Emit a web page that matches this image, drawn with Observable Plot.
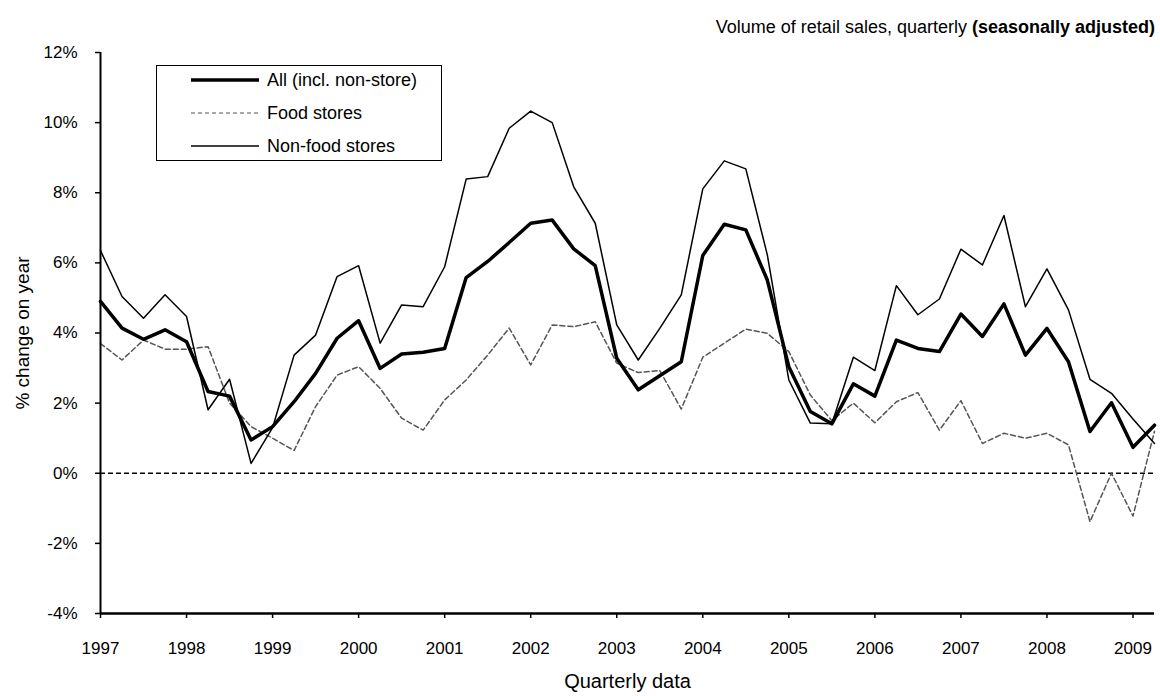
<!DOCTYPE html>
<html>
<head>
<meta charset="utf-8">
<script src="https://cdn.jsdelivr.net/npm/d3@7"></script>
<script src="https://cdn.jsdelivr.net/npm/@observablehq/plot@0.6"></script>
<style>
  body { margin: 0; background: white; font-family: "Liberation Sans", Arial, sans-serif; }
  #wrap { position: relative; width: 1160px; height: 696px; }
  #title { position: absolute; right: 5px; top: 17px; font-size: 18px; color: #000; white-space: nowrap; }
  #legend { position: absolute; left: 156px; top: 65px; width: 284px; height: 94px; border: 1.5px solid #000; background: white; }
  #legend svg { position: absolute; left: 0; top: 0; }
</style>
</head>
<body>
<div id="wrap">
  <div id="chart"></div>
  <div id="title">Volume of retail sales, quarterly <b>(seasonally adjusted)</b></div>
  <div id="legend"></div>
</div>
<script>
// Quarters 1997Q1 .. 2009Q2
const startYear = 1997;
const yearTicks = [1997,1998,1999,2000,2001,2002,2003,2004,2005,2006,2007,2008,2009];
const yTicks = [-4,-2,0,2,4,6,8,10,12];
const seriesNames = ["All (incl. non-store)", "Food stores", "Non-food stores"];

const allStores = [4.9,4.14,3.82,4.09,3.75,2.33,2.2,0.95,1.33,2.04,
                   2.85,3.85,4.35,2.99,3.4,3.45,3.56,5.58,6.04,6.58,
                   7.13,7.22,6.4,5.92,3.28,2.38,2.78,3.18,6.21,7.1,
                   6.94,5.51,3.04,1.76,1.41,2.55,2.2,3.8,3.56,3.47,
                   4.54,3.9,4.83,3.37,4.13,3.18,1.19,2.01,0.74,1.37];
const foodStores = [3.7,3.23,3.8,3.54,3.54,3.61,2.0,1.33,1.0,0.65,
                    1.9,2.8,3.04,2.42,1.57,1.23,2.09,2.66,3.37,4.14,
                    3.09,4.23,4.18,4.32,3.14,2.87,2.93,1.83,3.31,3.71,
                    4.11,3.99,3.47,2.23,1.5,2.0,1.44,2.04,2.3,1.23,
                    2.07,0.85,1.14,1.0,1.14,0.81,-1.38,0.0,-1.22,1.2];
const nonFoodStores = [6.35,5.04,4.42,5.09,4.47,1.81,2.68,0.28,1.3,3.37,
                       3.94,5.61,5.92,3.71,4.8,4.75,5.89,8.39,8.46,9.84,
                       10.33,10.0,8.17,7.13,4.23,3.23,4.13,5.09,8.11,8.91,
                       8.68,6.23,2.66,1.43,1.41,3.31,2.93,5.35,4.52,4.97,
                       6.39,5.94,7.35,4.75,5.83,4.66,2.68,2.28,1.55,0.85];

const toRows = vals => vals.map((v, i) => ({t: startYear + i / 4, v}));
const rowsAll = toRows(allStores);
const rowsFood = toRows(foodStores);
const rowsNonFood = toRows(nonFoodStores);

const font = "'Liberation Sans', Arial, sans-serif";

const chart = Plot.plot({
  width: 1160,
  height: 696,
  marginTop: 52,
  marginBottom: 83,
  marginLeft: 100,
  marginRight: 6,
  style: {fontFamily: font, fontSize: "17px", color: "#000", background: "white"},
  x: {domain: [1997, 2009.25], label: null},
  y: {domain: [-4, 12], label: null},
  marks: [
    Plot.ruleY([0], {stroke: "#000", strokeWidth: 1.5, strokeDasharray: "5,3"}),
    Plot.line(rowsFood, {x: "t", y: "v", stroke: "#555", strokeWidth: 1.5, strokeDasharray: "5,3"}),
    Plot.line(rowsNonFood, {x: "t", y: "v", stroke: "#000", strokeWidth: 1.5}),
    Plot.line(rowsAll, {x: "t", y: "v", stroke: "#000", strokeWidth: 3.5}),
    Plot.ruleX([1997], {stroke: "#000", strokeWidth: 2}),
    Plot.ruleY([-4], {stroke: "#000", strokeWidth: 2.5}),
    Plot.axisX({ticks: yearTicks, tickFormat: d => String(d), tickSize: 5, tickPadding: 23, fontSize: 17, label: null, strokeWidth: 1.5}),
    Plot.axisY({ticks: yTicks, tickFormat: d => d + "%", tickSize: 5, tickPadding: 18, fontSize: 17, label: null, strokeWidth: 1.5}),
    Plot.text(["% change on year"], {frameAnchor: "left", textAnchor: "middle", dx: -78, rotate: -90, fontSize: 19, fill: "#000"}),
    Plot.text(["Quarterly data"], {frameAnchor: "bottom", dy: 74, fontSize: 20, fill: "#000"})
  ]
});
document.getElementById("chart").appendChild(chart);

// Legend
const legendItems = [
  {name: seriesNames[0], width: 3.5, dash: null, color: "#000"},
  {name: seriesNames[1], width: 1.2, dash: "4,3", color: "#555"},
  {name: seriesNames[2], width: 1.5, dash: null, color: "#000"}
];
const lsvg = d3.select("#legend").append("svg").attr("width", 284).attr("height", 94);
legendItems.forEach((it, i) => {
  const y = 14 + i * 33;
  const ln = lsvg.append("line").attr("x1", 34).attr("x2", 102).attr("y1", y).attr("y2", y)
    .attr("stroke", it.color).attr("stroke-width", it.width);
  if (it.dash) ln.attr("stroke-dasharray", it.dash);
  lsvg.append("text").attr("x", 110).attr("y", y).attr("dy", "0.35em")
    .attr("font-family", font).attr("font-size", 18).attr("fill", "#000").text(it.name);
});
</script>
</body>
</html>
